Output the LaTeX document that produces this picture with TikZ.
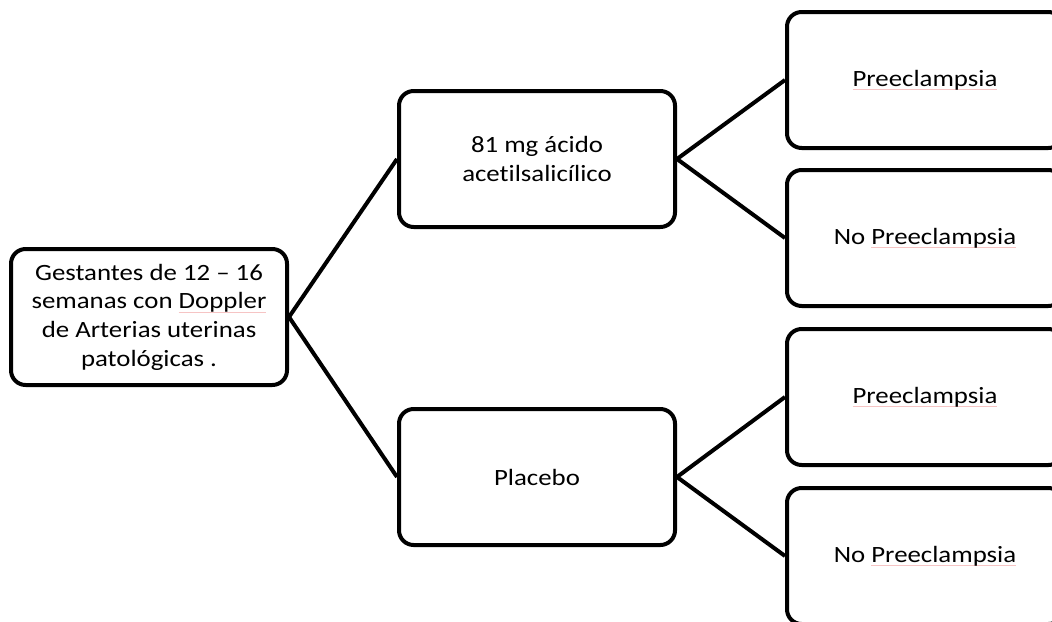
\documentclass[tikz,border=0pt]{standalone}
\usepackage{fontspec}
\setmainfont{Carlito}[FakeStretch=1.15, Ligatures={TeX,NoCommon}]
\usepackage{tikz}
\usepackage{xcolor}
\definecolor{spellred}{HTML}{f6c4c4}
% subrayado del corrector ortografico
\newlength{\spellw}
\newcommand{\spellmark}[1]{\settowidth{\spellw}{#1}\rlap{\textcolor{spellred}{\rule[-0.35ex]{\spellw}{0.5pt}}}#1}

\begin{document}
\begin{tikzpicture}[x=0.75pt,y=-0.75pt,
    caja/.style={draw, line width=3pt, rounded corners=11pt, fill=white,
      minimum width=207pt, minimum height=102pt, align=center,
      font=\fontsize{17.5}{21.5}\selectfont},
    rama/.style={line width=3pt}]
  \clip (0,0) rectangle (1052,621);
  \fill[white] (0,0) rectangle (1052,621);
  % columna izquierda
  \node[caja] (gestantes) at (149,317) {Gestantes de 12 -- 16\\semanas con \spellmark{Doppler}\\de Arterias uterinas\\patológicas .};
  % brazos del estudio
  \node[caja] (aspirina) at (537,159) {81 mg ácido\\acetilsalicílico};
  \node[caja] (placebo) at (537,477) {Placebo};
  % desenlaces
  \node[caja] (pe1) at (925,80) {\spellmark{Preeclampsia}};
  \node[caja] (nope1) at (925,238) {No \spellmark{Preeclampsia}};
  \node[caja] (pe2) at (925,397) {\spellmark{Preeclampsia}};
  \node[caja] (nope2) at (925,556) {No \spellmark{Preeclampsia}};
  \draw[rama] (gestantes.east) -- (aspirina.west);
  \draw[rama] (gestantes.east) -- (placebo.west);
  \draw[rama] (aspirina.east) -- (pe1.west);
  \draw[rama] (aspirina.east) -- (nope1.west);
  \draw[rama] (placebo.east) -- (pe2.west);
  \draw[rama] (placebo.east) -- (nope2.west);
\end{tikzpicture}
\end{document}
